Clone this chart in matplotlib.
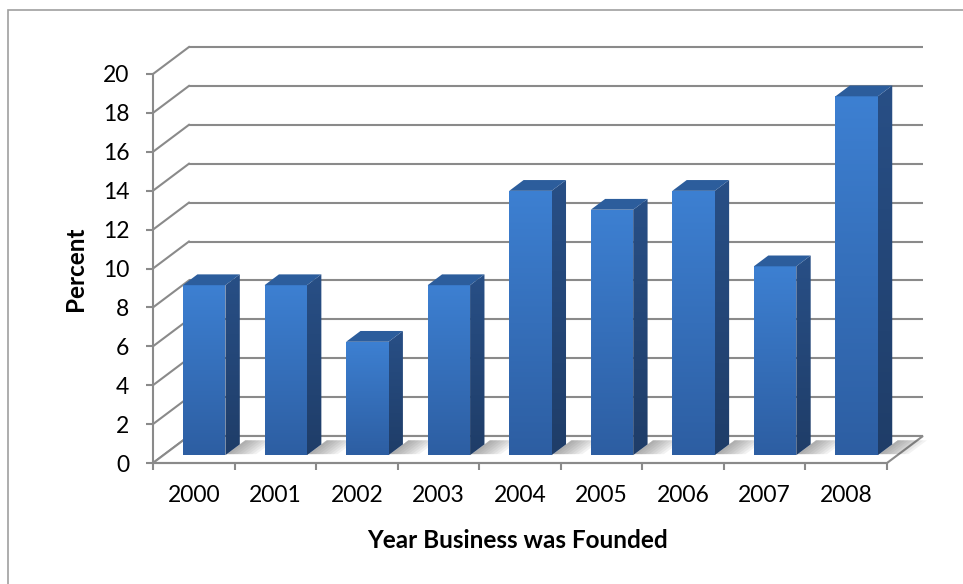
import numpy as np
import matplotlib.pyplot as plt
from matplotlib.patches import Polygon, Rectangle
from matplotlib.colors import LinearSegmentedColormap

# share of businesses by founding year
years = ['2000', '2001', '2002', '2003', '2004', '2005', '2006', '2007', '2008']
percent = [8.74, 8.74, 5.83, 8.74, 13.59, 12.62, 13.59, 9.71, 18.45]
y_ticks = list(range(0, 21, 2))

# fake 3-D: a point at depth d (0 = front, 1 = back wall) is shifted right/up
DX, DY = 0.441, 1.388
F0, F1 = 0.29, 0.69      # front / back depth of the bars
BW = 0.52                # bar width in category units


def proj(x, y, d):
    return (x + DX * d, y + DY * d)


W, H = 963, 584
fig = plt.figure(figsize=(W / 100, H / 100), dpi=100)
ax = fig.add_axes([153 / W, 121 / H, 734 / W, 389 / H])
ax.patch.set_visible(False)

grid = '#8a8a8a'
lw = 1.5
n = len(years)

# back wall and side wall grid lines
for v in y_ticks:
    x0, y0 = proj(0, v, 1)
    x1, y1 = proj(n, v, 1)
    ax.plot([x0, x1], [y0, y1], color=grid, lw=lw, clip_on=False, zorder=1,
            solid_capstyle='butt')
    ax.plot([0, x0], [v, y0], color=grid, lw=lw, clip_on=False, zorder=1)

# floor
floor = Polygon([proj(0, 0, 0), proj(n, 0, 0), proj(n, 0, 1), proj(0, 0, 1)],
                closed=True, fc='white', ec=grid, lw=lw, clip_on=False, zorder=2)
ax.add_patch(floor)

front_cmap = LinearSegmentedColormap.from_list('front', ['#2d5ea2', '#3d80d2'])
side_cmap = LinearSegmentedColormap.from_list('side', ['#1f3d68', '#284f86'])
grad = np.linspace(0, 1, 256).reshape(-1, 1)

for i, v in enumerate(percent):
    c = i + 0.5
    xl, xr = c - BW / 2, c + BW / 2

    # soft shadow on the floor
    for k in range(8):
        s = 0.045 * (k + 1)
        sh = Polygon([proj(xr, 0, F0 + 0.04), proj(xr + s, 0, F0 + 0.04),
                      proj(xr + s, 0, F1 + 0.15), proj(xr, 0, F1 + 0.15)],
                     closed=True, fc='#505050', ec='none', alpha=0.07,
                     clip_on=False, zorder=3)
        ax.add_patch(sh)

    # side face
    side_pts = [proj(xr, 0, F0), proj(xr, 0, F1), proj(xr, v, F1), proj(xr, v, F0)]
    side = Polygon(side_pts, closed=True, fc='none', ec='none', zorder=4)
    ax.add_patch(side)
    sx = [p[0] for p in side_pts]
    sy = [p[1] for p in side_pts]
    im = ax.imshow(grad, cmap=side_cmap, origin='lower', aspect='auto',
                   extent=[min(sx), max(sx), min(sy), max(sy)], zorder=4)
    im.set_clip_path(side)
    im.set_clip_box(fig.bbox)

    # front face
    fx0, fy0 = proj(xl, 0, F0)
    fx1, fy1 = proj(xr, v, F0)
    front = Polygon([(fx0, fy0), (fx1, fy0), (fx1, fy1), (fx0, fy1)],
                    closed=True, fc='none', ec='none', zorder=5)
    ax.add_patch(front)
    im = ax.imshow(grad, cmap=front_cmap, origin='lower', aspect='auto',
                   extent=[fx0, fx1, fy0, fy1], zorder=5)
    im.set_clip_path(front)

    # top face
    top = Polygon([proj(xl, v, F0), proj(xr, v, F0), proj(xr, v, F1), proj(xl, v, F1)],
                  closed=True, fc='#2c5d9c', ec='none', clip_on=False, zorder=6)
    ax.add_patch(top)

ax.set_xlim(0, n)
ax.set_ylim(0, 20)

# axes: front y axis and front floor edge
for sp in ['top', 'right']:
    ax.spines[sp].set_visible(False)
for sp in ['left', 'bottom']:
    ax.spines[sp].set_color(grid)
    ax.spines[sp].set_linewidth(lw)
    ax.spines[sp].set_zorder(7)

font = 'Lato'
ax.set_yticks(y_ticks)
ax.set_yticklabels([str(t) for t in y_ticks], fontsize=16.5, family=font)
ax.tick_params(axis='y', direction='out', length=5, width=lw, color=grid, pad=12)

ax.set_xticks(range(n + 1))
ax.set_xticklabels([])
ax.set_xticks(np.arange(n) + 0.5, minor=True)
ax.set_xticklabels(years, minor=True, fontsize=16.5, family=font)
ax.tick_params(axis='x', which='major', direction='out', length=5, width=lw, color=grid)
ax.tick_params(axis='x', which='minor', length=0, pad=16)

ax.text(-0.106, 0.5, 'Percent', transform=ax.transAxes, rotation=90,
        ha='center', va='center', fontsize=17.5, fontweight='bold', family=font)
ax.text(0.497, -0.198, 'Year Business was Founded', transform=ax.transAxes,
        ha='center', va='center', fontsize=17.5, fontweight='bold', family=font)

# chart area border
fig.add_artist(Rectangle((8 / W, -0.1), 1.2, (H - 10) / H + 0.1,
                         transform=fig.transFigure, fill=False,
                         ec='#a0a0a0', lw=1.2))

fig.savefig('out.png', dpi=100)
